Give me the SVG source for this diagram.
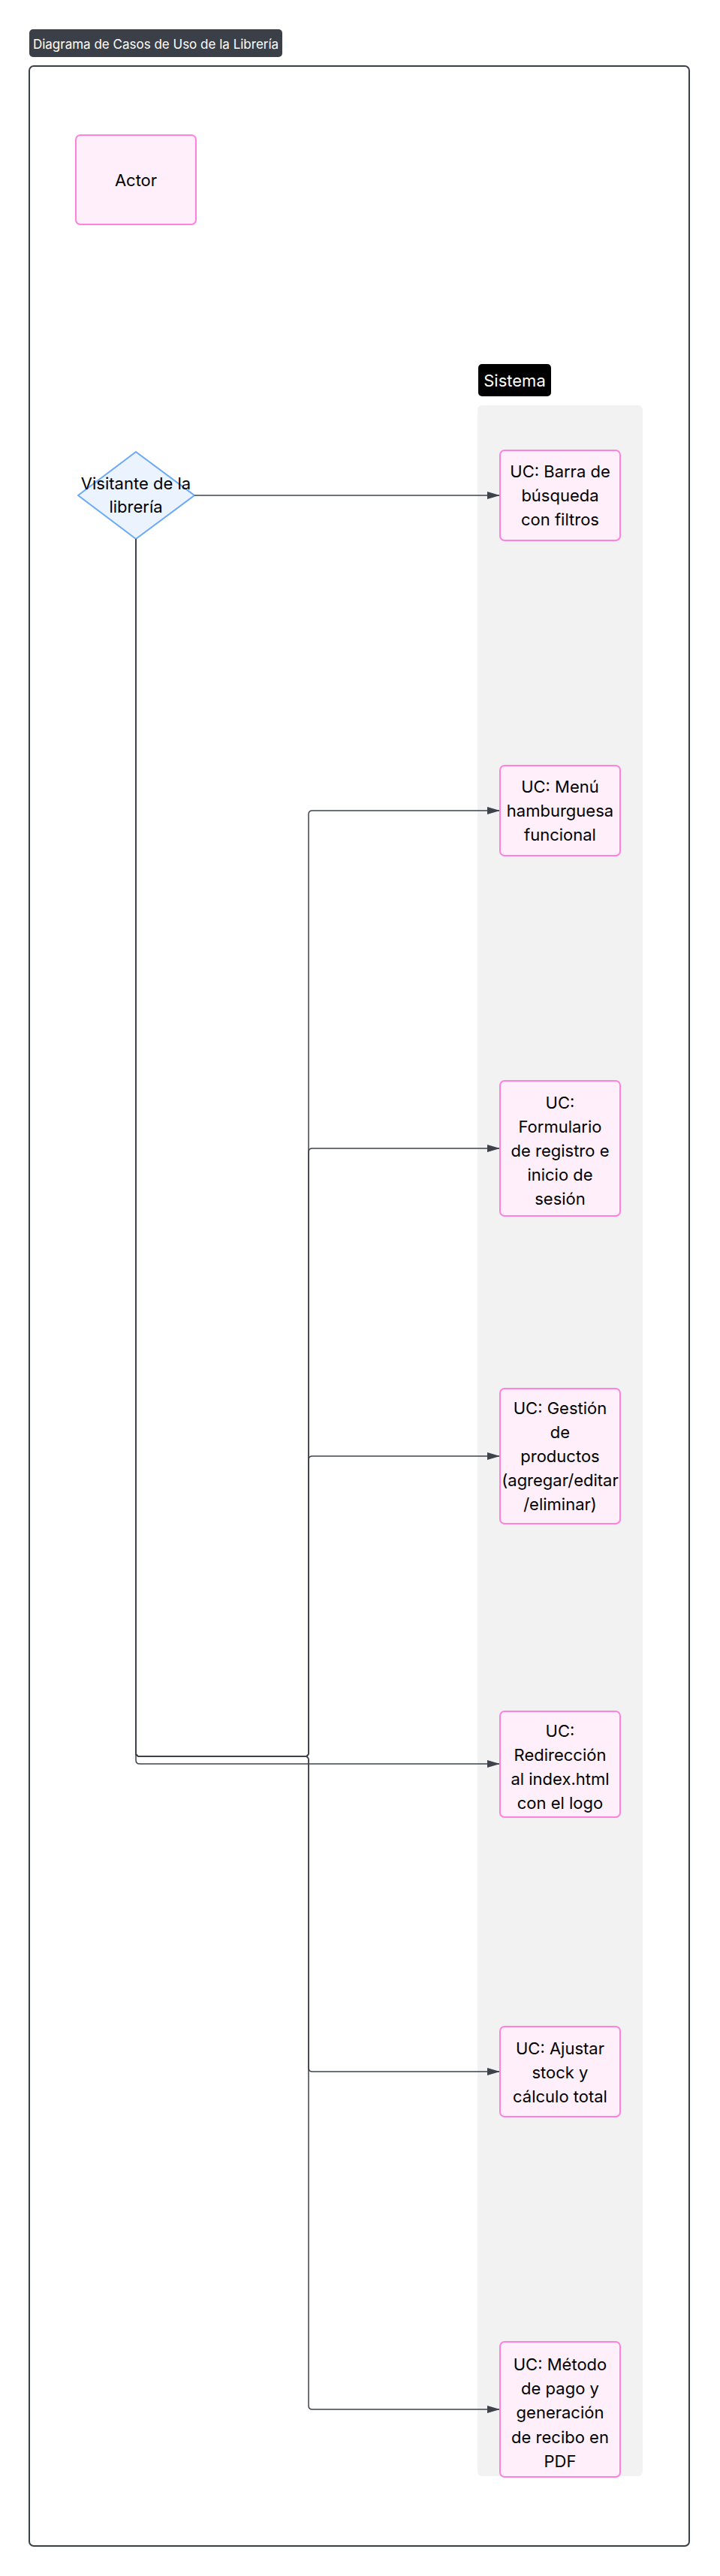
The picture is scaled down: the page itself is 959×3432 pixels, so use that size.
<svg xmlns="http://www.w3.org/2000/svg" width="959" height="3432" viewBox="0 0 959 3432">
<style>
text{font-family:Inter,"Noto Sans","Liberation Sans",sans-serif;fill:#000;}
.uc rect{fill:#ffeffa;stroke:#ff80df;stroke-width:2;}
.uc text,.lbl{font-size:22px;text-anchor:middle;}
.edge{fill:none;stroke:#3d424b;stroke-width:1.5;marker-end:url(#arr);}
</style>
<defs>
<marker id="arr" viewBox="0 0 17 10" markerUnits="userSpaceOnUse" markerWidth="17" markerHeight="10" refX="17" refY="5" orient="auto">
<path d="M0,0 L17,5 L0,10 z" fill="#3d424b"/>
</marker>
</defs>
<rect x="0" y="0" width="959" height="3432" fill="#ffffff"/>
<g id="title">
<rect x="39" y="39" width="337" height="37" rx="5" fill="#3b3f48"/>
<text x="207.5" y="65" style="font-size:17px;fill:#ffffff;text-anchor:middle">Diagrama de Casos de Uso de la Librería</text>
</g>
<g id="frame">
<rect x="39" y="88" width="879" height="3304" rx="6" fill="none" stroke="#3b3f47" stroke-width="2"/>
</g>
<g id="sistema">
<rect x="636" y="540" width="220" height="2759" rx="6" fill="#f2f2f2"/>
<rect x="637" y="485" width="97" height="43" rx="5" fill="#000000"/>
<text class="lbl" x="685.5" y="514.5" style="fill:#ffffff">Sistema</text>
</g>
<g id="actor" class="uc">
<rect x="101" y="180" width="160" height="119" rx="6"/>
<text x="181" y="248">Actor</text>
</g>
<g id="visitante">
<polygon points="181,602 259,660 181,718 104,660" fill="#ebf3fe" stroke="#6aa8f7" stroke-width="2" stroke-linejoin="round"/>
<text class="lbl" x="181" y="652">Visitante de la</text>
<text class="lbl" x="181" y="683">librería</text>
</g>
<g id="connectors">
<path class="edge" d="M259,660 H666"/>
<path class="edge" d="M181,718 V2335 Q181,2340 186,2340 H406 Q411,2340 411,2335 V1085 Q411,1080 416,1080 H666"/>
<path class="edge" d="M181,718 V2335 Q181,2340 186,2340 H406 Q411,2340 411,2335 V1535 Q411,1530 416,1530 H666"/>
<path class="edge" d="M181,718 V2335 Q181,2340 186,2340 H406 Q411,2340 411,2335 V1945 Q411,1940 416,1940 H666"/>
<path class="edge" d="M181,718 V2345 Q181,2350 186,2350 H666"/>
<path class="edge" d="M181,718 V2335 Q181,2340 186,2340 H406 Q411,2340 411,2345 V2755 Q411,2760 416,2760 H666"/>
<path class="edge" d="M181,718 V2335 Q181,2340 186,2340 H406 Q411,2340 411,2345 V3205 Q411,3210 416,3210 H666"/>
</g>
<g id="uc1" class="uc">
<rect x="666" y="600" width="160" height="120" rx="6"/>
<text x="746" y="636">UC: Barra de</text>
<text x="746" y="668">búsqueda</text>
<text x="746" y="700">con filtros</text>
</g>
<g id="uc2" class="uc">
<rect x="666" y="1020" width="160" height="120" rx="6"/>
<text x="746" y="1056">UC: Menú</text>
<text x="746" y="1088">hamburguesa</text>
<text x="746" y="1120">funcional</text>
</g>
<g id="uc3" class="uc">
<rect x="666" y="1440" width="160" height="180" rx="6"/>
<text x="746" y="1477">UC:</text>
<text x="746" y="1509">Formulario</text>
<text x="746" y="1541">de registro e</text>
<text x="746" y="1573">inicio de</text>
<text x="746" y="1605">sesión</text>
</g>
<g id="uc4" class="uc">
<rect x="666" y="1850" width="160" height="180" rx="6"/>
<text x="746" y="1884">UC: Gestión</text>
<text x="746" y="1916">de</text>
<text x="746" y="1948">productos</text>
<text x="746" y="1980">(agregar/editar</text>
<text x="746" y="2012">/eliminar)</text>
</g>
<g id="uc5" class="uc">
<rect x="666" y="2280" width="160" height="141" rx="6"/>
<text x="746" y="2314">UC:</text>
<text x="746" y="2346">Redirección</text>
<text x="746" y="2378">al index.html</text>
<text x="746" y="2410">con el logo</text>
</g>
<g id="uc6" class="uc">
<rect x="666" y="2700" width="160" height="120" rx="6"/>
<text x="746" y="2737">UC: Ajustar</text>
<text x="746" y="2769">stock y</text>
<text x="746" y="2801">cálculo total</text>
</g>
<g id="uc7" class="uc">
<rect x="666" y="3120" width="160" height="180" rx="6"/>
<text x="746" y="3158">UC: Método</text>
<text x="746" y="3190">de pago y</text>
<text x="746" y="3222">generación</text>
<text x="746" y="3255">de recibo en</text>
<text x="746" y="3287">PDF</text>
</g>
</svg>
